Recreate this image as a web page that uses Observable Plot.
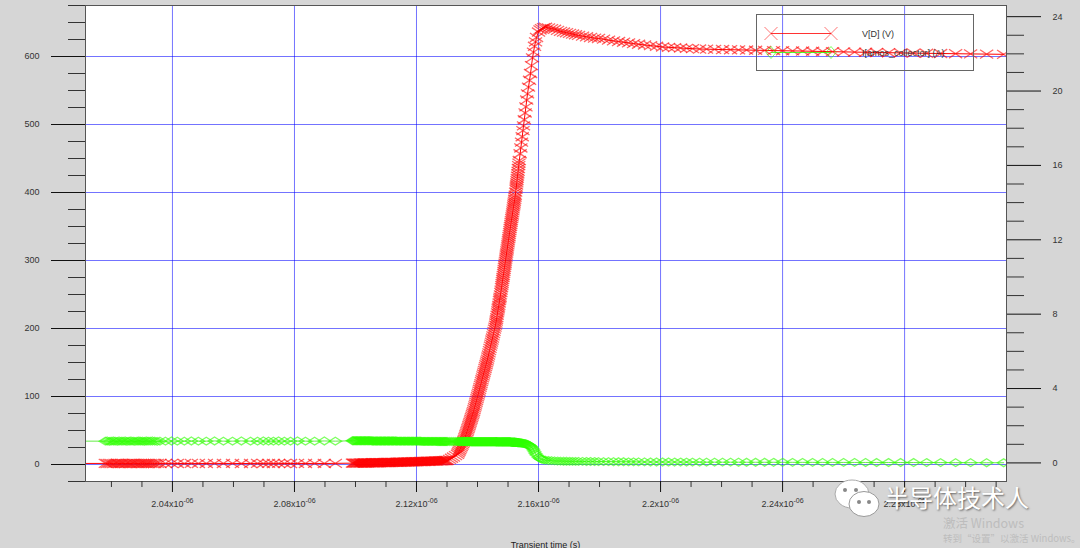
<!DOCTYPE html>
<html><head><meta charset="utf-8">
<script src="https://cdn.jsdelivr.net/npm/d3@7"></script>
<script src="https://cdn.jsdelivr.net/npm/@observablehq/plot@0.6"></script>
<style>
html,body{margin:0;padding:0;background:#d6d6d6;}
#wrap{position:relative;width:1080px;height:548px;overflow:hidden;font-family:"Liberation Sans",Arial,sans-serif;}
#legend{position:absolute;left:756px;top:14px;}
.wm{position:absolute;white-space:nowrap;font-family:"Noto Sans CJK SC",sans-serif;}
</style></head>
<body><div id="wrap"></div>
<script>
// Time of each simulation sample, in ns
const timeNs = [
  2005.0,
  2018.0, 2018.6, 2019.3, 2019.9, 2020.6, 2021.2, 2021.9, 2022.5, 2023.2, 2023.8, 2024.5, 2025.1, 2025.8, 2026.4,
  2027.1, 2027.7, 2028.4, 2029.0, 2029.6, 2030.2, 2030.8, 2031.4, 2032.0, 2032.7, 2033.4, 2034.2, 2035.0, 2035.9,
  2037.7, 2039.7, 2041.6, 2043.9, 2046.2, 2048.5, 2051.1, 2053.8, 2056.7, 2059.7, 2062.6, 2065.6,
  2067.9, 2069.8, 2071.5, 2073.1, 2074.8, 2076.7, 2078.7, 2081.0, 2083.6, 2086.6, 2089.8, 2093.4,
  2099.0, 2099.3, 2099.6, 2100.0, 2100.3, 2100.6, 2100.9, 2101.3, 2101.6, 2101.9,
  2102.2, 2102.6, 2102.9, 2103.2, 2103.5, 2103.9, 2104.2, 2104.5, 2104.8, 2105.2,
  2105.5, 2105.8, 2106.1, 2106.5, 2106.8, 2107.1, 2107.4, 2107.8, 2108.1, 2108.4,
  2108.7, 2109.1, 2109.4, 2109.7, 2110.0, 2110.4, 2110.7, 2111.0, 2111.3, 2111.7,
  2112.0, 2112.3, 2112.6, 2113.0, 2113.3, 2113.6, 2113.9, 2114.3, 2114.6, 2114.9,
  2115.2, 2115.6, 2115.9, 2116.2, 2116.5, 2116.9, 2117.2, 2117.5, 2117.8, 2118.2,
  2118.5, 2118.8, 2119.1, 2119.5, 2119.8, 2120.1, 2120.4, 2120.8, 2121.1, 2121.4,
  2121.7, 2122.1, 2122.4, 2122.7, 2123.0, 2123.4, 2123.7, 2124.0, 2124.3, 2124.7,
  2125.0, 2125.3, 2125.6, 2126.0, 2126.3, 2126.6, 2126.9, 2127.3, 2127.6, 2127.9,
  2128.2, 2128.6, 2128.9, 2129.2, 2129.5, 2129.8,
  2130.16, 2130.82, 2131.47, 2132.13, 2132.79, 2133.44,
  2133.69, 2133.93, 2134.18, 2134.43, 2134.67, 2134.92, 2135.16, 2135.41,
  2135.57, 2135.74, 2135.90, 2136.07, 2136.23, 2136.39, 2136.56, 2136.72, 2136.88, 2137.05,
  2137.21, 2137.38, 2137.54, 2137.71, 2137.87, 2138.03, 2138.20, 2138.36, 2138.52, 2138.69,
  2138.85, 2139.02, 2139.18, 2139.35, 2139.51, 2139.67, 2139.84, 2140.00, 2140.16, 2140.33,
  2140.49, 2140.66, 2140.82, 2140.98, 2141.15, 2141.31, 2141.47, 2141.64, 2141.80, 2141.97,
  2142.13, 2142.30, 2142.46, 2142.62, 2142.79, 2142.95, 2143.11, 2143.28, 2143.44, 2143.61,
  2143.77, 2143.94, 2144.10, 2144.26, 2144.43, 2144.59, 2144.75, 2144.92, 2145.08, 2145.25,
  2145.41, 2145.57, 2145.74, 2145.90, 2146.02, 2146.13, 2146.23, 2146.33, 2146.44, 2146.56,
  2146.67, 2146.79, 2146.88, 2146.98, 2147.10, 2147.21, 2147.31, 2147.41, 2147.52, 2147.64,
  2147.75, 2147.87, 2147.97, 2148.07, 2148.16, 2148.26, 2148.36, 2148.46, 2148.56, 2148.66,
  2148.75, 2148.85, 2148.95, 2149.05, 2149.15, 2149.25, 2149.34, 2149.44, 2149.54, 2149.64,
  2149.74, 2149.84, 2149.93, 2150.03, 2150.13, 2150.23, 2150.33, 2150.43, 2150.52, 2150.62,
  2150.72, 2150.82, 2150.92, 2151.02, 2151.11, 2151.21, 2151.31, 2151.41, 2151.51, 2151.61,
  2151.70, 2151.80, 2151.90, 2152.00, 2152.10, 2152.20, 2152.29, 2152.39, 2152.50, 2152.62,
  2152.70, 2152.79, 2152.87, 2152.95, 2153.03, 2153.11, 2153.21, 2153.31, 2153.41, 2153.51,
  2153.60, 2153.70,
  2153.97, 2154.20, 2154.43, 2154.66, 2154.89, 2155.08, 2155.34, 2155.61, 2155.87, 2156.13,
  2156.39, 2156.72, 2157.05, 2157.38, 2157.70, 2158.03, 2158.36, 2158.69, 2159.02, 2159.34,
  2160.00, 2160.49, 2160.98, 2161.64, 2162.30,
  2163.28, 2164.26, 2165.25, 2166.23, 2167.21, 2168.20, 2169.18, 2170.16, 2171.15, 2172.13,
  2173.12, 2174.43, 2175.74, 2177.05, 2178.36, 2179.67, 2181.31, 2182.95, 2184.59, 2186.23,
  2187.87, 2189.51, 2191.15, 2192.79, 2194.75, 2196.72, 2198.69, 2200.66, 2202.62, 2204.59,
  2206.56, 2208.53, 2210.49, 2212.79, 2215.08, 2217.71, 2220.33, 2222.95, 2225.57, 2228.20,
  2231.15, 2234.10, 2237.05, 2240.00, 2243.28, 2246.56, 2249.84, 2253.12, 2256.39, 2260.00,
  2263.61, 2267.21, 2270.82, 2274.75, 2278.69, 2282.95, 2287.21, 2291.80, 2296.72, 2301.64,
  2306.89, 2312.46
];
// V[D] (V), left axis
const vd = [
  1.5,
  1.6, 1.4, 1.7, 1.5, 1.3, 1.6, 1.8, 1.4, 1.5, 1.7, 1.3, 1.6, 1.5, 1.4,
  1.8, 1.6, 1.5, 1.3, 1.7, 1.5, 1.6, 1.4, 1.5, 1.7, 1.5, 1.4, 1.6, 1.5,
  1.5, 1.6, 1.5, 1.4, 1.6, 1.5, 1.5, 1.7, 1.5, 1.6, 1.4, 1.5,
  1.6, 1.5, 1.7, 1.5, 1.6, 1.5, 1.4, 1.6, 1.5, 1.6, 1.5, 1.7,
  2.0, 2.0, 2.0, 2.0, 2.1, 2.1, 2.1, 2.1, 2.2, 2.2,
  2.2, 2.2, 2.3, 2.3, 2.3, 2.3, 2.4, 2.4, 2.4, 2.4,
  2.5, 2.5, 2.5, 2.5, 2.6, 2.6, 2.6, 2.6, 2.7, 2.7,
  2.8, 2.8, 2.8, 2.8, 2.9, 2.9, 3.0, 3.0, 3.0, 3.0,
  3.1, 3.1, 3.2, 3.2, 3.2, 3.3, 3.3, 3.4, 3.4, 3.5,
  3.5, 3.5, 3.5, 3.6, 3.6, 3.7, 3.7, 3.8, 3.8, 3.9,
  3.9, 4.0, 4.0, 4.1, 4.1, 4.2, 4.2, 4.3, 4.3, 4.4,
  4.4, 4.5, 4.5, 4.6, 4.6, 4.7, 4.7, 4.8, 4.8, 4.9,
  4.9, 5.0, 5.0, 5.1, 5.1, 5.2, 5.3, 5.3, 5.4, 5.4,
  5.5, 5.6, 5.7, 5.7, 5.8, 5.9,
  6, 7.6, 9.2, 11, 13, 15,
  17.2, 19.5, 21.7, 24, 26.2, 28.5, 30.7, 33,
  35.2, 37.4, 39.6, 41.8, 44.0, 46.2, 48.4, 50.6, 52.8, 55,
  57.3, 59.6, 61.9, 64.2, 66.5, 68.8, 71.1, 73.4, 75.7, 78,
  80.7, 83.4, 86.1, 88.8, 91.5, 94.2, 96.9, 99.6, 102.3, 105,
  107.8, 110.6, 113.4, 116.2, 119.0, 121.8, 124.6, 127.4, 130.2, 133,
  135.7, 138.5, 141.2, 144, 146.7, 149.5, 152.2, 155, 158, 161,
  164.2, 167.5, 170.7, 174, 177, 180, 183, 186, 189.2, 192.5,
  195.7, 199, 202, 205, 208, 211, 213.5, 216, 219.5, 223,
  226, 229, 231.5, 234, 237.5, 241, 243.5, 246, 249.5, 253,
  256.5, 260, 263, 266, 269, 272, 275, 278, 281, 284,
  287, 290, 293, 296, 299, 302, 305, 308, 311, 314,
  317, 320, 323, 326, 329, 332, 335, 338, 341, 344,
  347, 350, 353, 356, 358.7, 361.5, 364.2, 367, 370, 373,
  376, 379, 381.7, 384.5, 387.2, 390, 393, 396, 400.5, 405,
  408, 411, 414.2, 417.5, 420.7, 424, 427.5, 431, 435.2, 439.5,
  443.2, 447,
  457, 465.5, 474, 482, 491, 498, 507, 517, 526, 536,
  545, 555, 565, 575, 586.5, 598, 606.5, 615, 621.5, 628,
  636, 639, 641, 642.5, 643,
  642, 641, 640, 638.5, 637, 636, 635, 634, 633, 632,
  631, 630, 629, 628, 627, 626.5, 625.5, 624, 623, 622,
  621, 620, 619, 618, 617, 616, 615, 614, 613.5, 613,
  612.5, 612, 611.5, 611, 610.8, 610.5, 610.2, 610, 609.7, 609.5,
  609.2, 609, 608.7, 608.5, 608.2, 608, 607.7, 607.4, 607.1, 606.8,
  606.5, 606.2, 605.9, 605.6, 605.3, 605, 604.7, 604.4, 604.1, 603.8,
  603.5, 603.2
];
// I[amos_collector] (A), right axis
const ic = [
  1.17,
  1.17, 1.18, 1.16, 1.17, 1.18, 1.17, 1.16, 1.18, 1.17, 1.17, 1.18, 1.16, 1.17, 1.18,
  1.17, 1.16, 1.17, 1.18, 1.17, 1.17, 1.16, 1.18, 1.17, 1.17, 1.18, 1.17, 1.16, 1.17,
  1.17, 1.18, 1.17, 1.17, 1.18, 1.17, 1.17, 1.18, 1.17, 1.17, 1.18, 1.17,
  1.17, 1.18, 1.17, 1.17, 1.18, 1.17, 1.17, 1.18, 1.17, 1.17, 1.18, 1.17,
  1.19, 1.19, 1.19, 1.19, 1.19, 1.19, 1.19, 1.19, 1.19, 1.19,
  1.19, 1.19, 1.19, 1.19, 1.19, 1.19, 1.19, 1.19, 1.19, 1.19,
  1.18, 1.18, 1.18, 1.18, 1.18, 1.18, 1.18, 1.18, 1.18, 1.18,
  1.18, 1.18, 1.18, 1.18, 1.18, 1.18, 1.18, 1.18, 1.18, 1.18,
  1.18, 1.18, 1.18, 1.18, 1.18, 1.17, 1.17, 1.17, 1.17, 1.17,
  1.17, 1.17, 1.17, 1.17, 1.17, 1.17, 1.17, 1.17, 1.17, 1.17,
  1.17, 1.17, 1.17, 1.17, 1.17, 1.17, 1.17, 1.17, 1.17, 1.17,
  1.16, 1.16, 1.16, 1.16, 1.16, 1.16, 1.16, 1.16, 1.16, 1.16,
  1.16, 1.16, 1.16, 1.16, 1.16, 1.16, 1.15, 1.15, 1.15, 1.15,
  1.15, 1.15, 1.15, 1.15, 1.15, 1.15,
  1.15, 1.15, 1.15, 1.15, 1.15, 1.15,
  1.15, 1.15, 1.15, 1.15, 1.15, 1.15, 1.15, 1.15,
  1.15, 1.15, 1.15, 1.15, 1.15, 1.15, 1.15, 1.15, 1.15, 1.15,
  1.15, 1.15, 1.15, 1.15, 1.14, 1.14, 1.14, 1.14, 1.14, 1.14,
  1.14, 1.14, 1.14, 1.14, 1.14, 1.14, 1.14, 1.14, 1.14, 1.14,
  1.14, 1.14, 1.14, 1.14, 1.14, 1.14, 1.14, 1.14, 1.14, 1.14,
  1.14, 1.14, 1.14, 1.14, 1.14, 1.14, 1.14, 1.14, 1.14, 1.14,
  1.14, 1.14, 1.14, 1.14, 1.14, 1.14, 1.14, 1.14, 1.14, 1.14,
  1.14, 1.14, 1.14, 1.14, 1.14, 1.14, 1.14, 1.14, 1.13, 1.13,
  1.13, 1.13, 1.13, 1.13, 1.13, 1.13, 1.13, 1.13, 1.13, 1.13,
  1.13, 1.13, 1.13, 1.13, 1.13, 1.13, 1.13, 1.13, 1.13, 1.13,
  1.13, 1.13, 1.13, 1.13, 1.13, 1.13, 1.13, 1.13, 1.13, 1.13,
  1.13, 1.13, 1.13, 1.13, 1.13, 1.13, 1.13, 1.13, 1.13, 1.13,
  1.13, 1.13, 1.12, 1.12, 1.12, 1.12, 1.12, 1.12, 1.11, 1.11,
  1.11, 1.11, 1.11, 1.11, 1.11, 1.11, 1.11, 1.11, 1.10, 1.10,
  1.10, 1.10, 1.10, 1.10, 1.09, 1.09, 1.09, 1.09, 1.09, 1.09,
  1.08, 1.08,
  1.08, 1.07, 1.07, 1.06, 1.05, 1.05, 1.04, 1.03, 1.02, 1.01,
  0.99, 0.97, 0.94, 0.90, 0.85, 0.78, 0.70, 0.60, 0.50, 0.42,
  0.30, 0.24, 0.20, 0.17, 0.15,
  0.13, 0.12, 0.11, 0.10, 0.095, 0.09, 0.088, 0.086, 0.084, 0.082,
  0.08, 0.078, 0.076, 0.074, 0.072, 0.07, 0.068, 0.066, 0.064, 0.062,
  0.06, 0.058, 0.056, 0.054, 0.052, 0.05, 0.049, 0.048, 0.047, 0.046,
  0.045, 0.044, 0.043, 0.042, 0.041, 0.04, 0.039, 0.038, 0.037, 0.036,
  0.035, 0.034, 0.033, 0.032, 0.031, 0.03, 0.029, 0.028, 0.027, 0.026,
  0.025, 0.024, 0.023, 0.022, 0.021, 0.02, 0.018, 0.016, 0.014, 0.012,
  0.01, 0.008
];

// Axes
const xDomain = [2011.5, 2313.4];           // ns
const xMajor = [2040, 2080, 2120, 2160, 2200, 2240, 2280];
const xMinor = [2020, 2030, 2050, 2060, 2070, 2090, 2100, 2110, 2130, 2140, 2150, 2170, 2180, 2190, 2210, 2220, 2230, 2250, 2260, 2270, 2290, 2300, 2310];
const leftDomain = [-25, 675];
const leftMajor = [0, 100, 200, 300, 400, 500, 600];
const leftMinor = [-25, 25, 50, 75, 125, 150, 175, 225, 250, 275, 325, 350, 375, 425, 450, 475, 525, 550, 575, 625, 650, 675];
const rightDomain = [-1, 24.6];
const rightMajor = [0, 4, 8, 12, 16, 20, 24];
const rightMinor = [1, 2, 3, 5, 6, 7, 9, 10, 11, 13, 14, 15, 17, 18, 19, 21, 22, 23];
const seriesNames = ["V[D] (V)", "I[amos_collector] (A)"];
const xTitle = "Transient time (s)";

if (timeNs.length !== vd.length || timeNs.length !== ic.length) console.error("length mismatch", timeNs.length, vd.length, ic.length);

// map right-axis values into left-axis space
const iToY = i => leftDomain[0] + (i - rightDomain[0]) * (leftDomain[1] - leftDomain[0]) / (rightDomain[1] - rightDomain[0]);
const yToI = y => rightDomain[0] + (y - leftDomain[0]) * (rightDomain[1] - rightDomain[0]) / (leftDomain[1] - leftDomain[0]);

const n = Math.min(timeNs.length, vd.length, ic.length);
const data = timeNs.slice(0, n).map((t, k) => ({t, v: vd[k], iy: iToY(ic[k])}));

const flatX = {draw(ctx, size) {
  const r = Math.sqrt(size / Math.PI);
  ctx.moveTo(-1.2 * r, -0.8 * r); ctx.lineTo(1.2 * r, 0.8 * r);
  ctx.moveTo(-1.2 * r, 0.8 * r); ctx.lineTo(1.2 * r, -0.8 * r);
}};
const flatDiamond = {draw(ctx, size) {
  const r = Math.sqrt(size / Math.PI);
  ctx.moveTo(0, -0.75 * r); ctx.lineTo(1.2 * r, 0); ctx.lineTo(0, 0.75 * r); ctx.lineTo(-1.2 * r, 0); ctx.closePath();
}};

const RED = "#ff0000", GREEN = "#2eff00";
const gridStyle = {stroke: "#0000ff", strokeOpacity: 0.55, strokeWidth: 1};

const chart = Plot.plot({
  width: 1080, height: 548,
  marginLeft: 85, marginRight: 74, marginTop: 5, marginBottom: 67,
  style: {background: "transparent", fontFamily: "'Liberation Sans', Arial, sans-serif", fontSize: "9px", color: "#333", overflow: "visible"},
  x: {domain: xDomain},
  y: {domain: leftDomain},
  marks: [
    Plot.frame({fill: "white", stroke: "none"}),
    Plot.gridY(leftMajor, gridStyle),
    Plot.gridX(xMajor, gridStyle),
    Plot.line(data, {x: "t", y: "v", stroke: RED, strokeWidth: 1, clip: true}),
    Plot.dot(data, {x: "t", y: "v", symbol: flatX, r: 5.5, stroke: RED, strokeOpacity: 0.6, strokeWidth: 1.3, fill: "none", clip: true}),
    Plot.line(data, {x: "t", y: "iy", stroke: "#3ee61a", strokeWidth: 1, strokeOpacity: 0.8, clip: true}),
    Plot.dot(data, {x: "t", y: "iy", symbol: flatDiamond, r: 5.2, stroke: GREEN, strokeOpacity: 0.62, strokeWidth: 1.3, fill: "none", clip: true}),
    Plot.frame({stroke: "#555", strokeWidth: 1}),
    Plot.axisY(leftMajor, {anchor: "left", tickSize: 34, tickPadding: 12, label: null, stroke: "#111", fill: "#333", fontSize: 9}),
    Plot.axisY(leftMinor, {anchor: "left", tickSize: 17, tickFormat: () => "", label: null, stroke: "#333"}),
    Plot.axisY(rightMajor.map(iToY), {anchor: "right", tickSize: 34, tickPadding: 12, label: null, stroke: "#111", fill: "#333", fontSize: 9,
      tickFormat: d => String(Math.round(yToI(d)))}),
    Plot.axisY(rightMinor.map(iToY), {anchor: "right", tickSize: 17, tickFormat: () => "", label: null, stroke: "#333"}),
    Plot.axisX(xMajor, {anchor: "bottom", tickSize: 11, tickPadding: 8, label: null, stroke: "#111", fill: "#333", fontSize: 9,
      tickFormat: d => `${+(d / 1000).toFixed(2)}x10`}),
    Plot.axisX(xMinor, {anchor: "bottom", tickSize: 6, tickFormat: () => "", label: null, stroke: "#333"})
  ]
});

// superscript exponent on x tick labels
const NS = "http://www.w3.org/2000/svg";
chart.querySelectorAll('g[aria-label="x-axis tick label"] text').forEach(t => {
  if (!t.textContent) return;
  const ts = document.createElementNS(NS, "tspan");
  ts.setAttribute("dy", "-4");
  ts.setAttribute("font-size", "7");
  ts.textContent = "-06";
  t.appendChild(ts);
});
d3.select(chart).append("text")
  .attr("x", 545.5).attr("y", 547.5).attr("text-anchor", "middle")
  .attr("font-size", 9).attr("fill", "#222").text(xTitle);

const wrap = document.getElementById("wrap");
wrap.appendChild(chart);

// legend
const lg = d3.select(wrap).append("svg").attr("id", "legend").attr("width", 220).attr("height", 60);
lg.append("rect").attr("x", 0.5).attr("y", 0.5).attr("width", 217).attr("height", 56).attr("fill", "none").attr("stroke", "#666");
const rows = [
  {name: seriesNames[0], y: 19.5, color: RED, sym: "M-6.5,-6.5L6.5,6.5M-6.5,6.5L6.5,-6.5", op: 0.55},
  {name: seriesNames[1], y: 38.5, color: GREEN, sym: "M0,-6L5,0L0,6L-5,0Z", op: 0.6}
];
for (const r of rows) {
  lg.append("line").attr("x1", 15).attr("x2", 75).attr("y1", r.y).attr("y2", r.y).attr("stroke", r.color).attr("stroke-opacity", 0.8);
  for (const cx of [15, 75]) lg.append("path").attr("d", r.sym).attr("transform", `translate(${cx},${r.y})`)
    .attr("fill", "none").attr("stroke", r.color).attr("stroke-opacity", r.op);
  lg.append("text").attr("x", 106).attr("y", r.y + 3.5).attr("font-size", 9).attr("fill", "#333")
    .attr("font-family", "'Liberation Sans', Arial, sans-serif").text(r.name);
}

// watermark overlays
const ic2 = d3.select(wrap).append("svg").style("position", "absolute").style("left", "832px").style("top", "478px")
  .attr("width", 52).attr("height", 44);
ic2.append("ellipse").attr("cx", 20).attr("cy", 16).attr("rx", 17).attr("ry", 14).attr("fill", "white").attr("stroke", "#aaa");
ic2.append("ellipse").attr("cx", 32).attr("cy", 26).attr("rx", 15).attr("ry", 12.5).attr("fill", "white").attr("stroke", "#999");
for (const [cx, cy] of [[13, 12], [24, 12], [27, 24], [37, 24]]) ic2.append("circle").attr("cx", cx).attr("cy", cy).attr("r", 2).attr("fill", "#888");

const addText = (txt, left, top, size, color, shadow) => {
  const d = document.createElement("div");
  d.className = "wm"; d.textContent = txt;
  d.style.left = left + "px"; d.style.top = top + "px"; d.style.fontSize = size + "px"; d.style.lineHeight = "1";
  d.style.color = color; if (shadow) d.style.textShadow = shadow;
  wrap.appendChild(d);
};
addText("半导体技术人", 885, 485, 24, "#ffffff", "1px 1px 2px rgba(0,0,0,0.55)");
addText("激活 Windows", 943, 517, 12.5, "#bdbdbd");
addText("转到\u201c设置\u201d以激活 Windows。", 943, 534, 9.5, "#bdbdbd");
</script>
</body></html>
